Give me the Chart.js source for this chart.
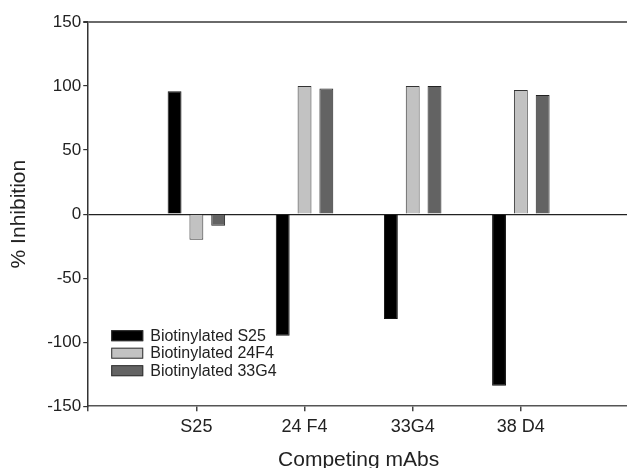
<!DOCTYPE html>
<html>
<head>
<meta charset="utf-8">
<script src="https://cdn.jsdelivr.net/npm/chart.js@4.4.1/dist/chart.umd.min.js"></script>
<style>
  html, body { margin: 0; padding: 0; background: #fff; overflow: hidden; }
  #wrap { width: 634px; height: 468px; }
</style>
</head>
<body>
<div id="wrap"><canvas id="inhibitionChart"></canvas></div>
<script>
// --- DATA ---
const competingMabs = ['S25', '24 F4', '33G4', '38 D4'];
const seriesLabels = ['Biotinylated S25', 'Biotinylated 24F4', 'Biotinylated 33G4'];
const biotS25 = [96, -95, -82, -134];
const biot24F4 = [-20, 100, 100, 97];
const biot33G4 = [-9, 98, 100, 93];
const yTicks = [-150, -100, -50, 0, 50, 100, 150];

// empty slots on each side so the groups sit away from the y axis
const labels = [''].concat(competingMabs, ['']);
const pad = arr => [null].concat(arr, [null]);

const textColor = '#222';
const fontFam = '"Liberation Sans", Arial, sans-serif';

// legend drawn inside the plot, bottom-left
const innerLegend = {
    id: 'innerLegend',
    afterDraw(chart) {
        const { ctx, chartArea } = chart;
        const x0 = chartArea.left + 23;
        const y0 = chartArea.bottom - 76;
        ctx.save();
        ctx.font = '16px ' + fontFam;
        ctx.textBaseline = 'middle';
        chart.data.datasets.forEach((ds, i) => {
            const y = y0 + i * 17.5;
            ctx.fillStyle = ds.backgroundColor;
            ctx.fillRect(x0, y, 32, 11);
            ctx.strokeStyle = '#333';
            ctx.lineWidth = 1;
            ctx.strokeRect(x0 + 0.5, y + 0.5, 31, 10);
            ctx.fillStyle = textColor;
            ctx.fillText(ds.label, x0 + 39, y + 6);
        });
        ctx.restore();
    }
};

new Chart(document.getElementById('inhibitionChart'), {
    type: 'bar',
    data: {
        labels: labels,
        datasets: [
            { label: seriesLabels[0], data: pad(biotS25), backgroundColor: '#000000', borderColor: '#111', borderWidth: 1 },
            { label: seriesLabels[1], data: pad(biot24F4), backgroundColor: '#c2c2c2', borderColor: '#333', borderWidth: 1 },
            { label: seriesLabels[2], data: pad(biot33G4), backgroundColor: '#636363', borderColor: '#222', borderWidth: 1 }
        ]
    },
    options: {
        responsive: true,
        maintainAspectRatio: false,
        animation: false,
        categoryPercentage: 0.605,
        barPercentage: 0.636,
        layout: { padding: { left: 5, top: 22, right: 0, bottom: -5 } },
        plugins: { legend: { display: false }, tooltip: { enabled: false } },
        scales: {
            x: {
                offset: false,
                grid: { offset: false, drawOnChartArea: false, tickLength: 5, color: '#444', lineWidth: 1.5 },
                border: { color: '#555', width: 1.5 },
                ticks: { color: textColor, font: { family: fontFam, size: 18 }, padding: 5, maxRotation: 0, autoSkip: false },
                title: { display: true, text: 'Competing mAbs', color: textColor, font: { family: fontFam, size: 21 }, padding: { top: 5, bottom: 0 } }
            },
            y: {
                min: yTicks[0],
                max: yTicks[yTicks.length - 1],
                afterBuildTicks: axis => { axis.ticks = yTicks.map(v => ({ value: v })); },
                grid: {
                    tickLength: 5,
                    tickColor: '#333',
                    color: c => c.tick && c.tick.value === 0 ? '#222' : (c.tick && c.tick.value === 150 ? '#6a6a6a' : 'rgba(0,0,0,0)'),
                    lineWidth: c => c.tick && c.tick.value === 150 ? 2 : 1.2
                },
                border: { color: '#333', width: 1.5 },
                ticks: { color: textColor, font: { family: fontFam, size: 17 }, padding: 2 },
                title: { display: true, text: '% Inhibition', color: textColor, font: { family: fontFam, size: 21 }, padding: { top: 2, bottom: 13 } }
            }
        }
    },
    plugins: [innerLegend]
});
</script>
</body>
</html>
